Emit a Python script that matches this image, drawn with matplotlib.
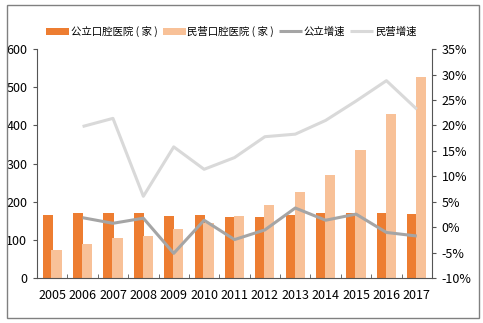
import matplotlib
matplotlib.use("Agg")
import matplotlib.pyplot as plt
from matplotlib.patches import Rectangle
import numpy as np

plt.rcParams['font.family'] = ['Liberation Sans Narrow', 'Noto Sans CJK SC', 'DejaVu Sans']

# 数据
years = ['2005', '2006', '2007', '2008', '2009', '2010', '2011',
         '2012', '2013', '2014', '2015', '2016', '2017']
public_cnt = [165, 170, 170, 172, 163, 165, 161, 161, 167, 170, 172, 170, 168]
private_cnt = [74, 89, 106, 111, 130, 144, 162, 191, 225, 270, 335, 430, 527]
public_growth = [None, 1.9, 0.8, 1.8, -5.1, 1.4, -2.4, -0.5, 3.8, 1.4, 2.6, -1.0, -1.7]
private_growth = [None, 19.8, 21.4, 6.1, 15.8, 11.4, 13.7, 17.8, 18.3, 21.0, 24.8, 28.8, 23.2]

c_pub = '#ED7D31'
c_pri = '#F8C198'
c_pub_l = '#A5A5A5'
c_pri_l = '#D9D9D9'

fig = plt.figure(figsize=(4.83, 3.23), dpi=100)
ax = fig.add_axes([0.0766, 0.1384, 0.8178, 0.7096])
ax2 = ax.twinx()

x = np.arange(len(years))
w = 0.34
b1 = ax.bar(x - 0.145, public_cnt, w, color=c_pub, zorder=2, label='公立口腔医院 ( 家 )')
b2 = ax.bar(x + 0.145, private_cnt, w, color=c_pri, zorder=2, label='民营口腔医院 ( 家 )')

pg = np.array([np.nan if v is None else v for v in public_growth])
rg = np.array([np.nan if v is None else v for v in private_growth])
l1, = ax2.plot(x, pg, color=c_pub_l, lw=2.2, label='公立增速', solid_capstyle='butt')
l2, = ax2.plot(x, rg, color=c_pri_l, lw=2.2, label='民营增速', solid_capstyle='butt')

ax.set_xlim(-0.5, len(years) - 0.5)
ax.set_ylim(0, 600)
ax.set_yticks(range(0, 601, 100))
ax2.set_ylim(-10, 35)
ax2.set_yticks(range(-10, 36, 5))
ax2.set_yticklabels([f'{v}%' for v in range(-10, 36, 5)])

ax.set_xticks(x)
ax.set_xticklabels(years)
ax.set_xticks(np.arange(-0.5, len(years), 1), minor=True)
ax.tick_params(axis='x', which='major', length=0, labelsize=9, pad=8)
ax.tick_params(axis='x', which='minor', direction='in', length=3, color='#555555')
ax.tick_params(axis='y', length=3, color='#555555', labelsize=9, pad=4)
ax2.tick_params(axis='y', length=3, color='#555555', labelsize=9, pad=4)

for a in (ax, ax2):
    a.spines['top'].set_visible(False)
    for s in ('left', 'right', 'bottom'):
        a.spines[s].set_color('#555555')
        a.spines[s].set_linewidth(0.8)
ax.spines['right'].set_visible(False)
ax2.spines['left'].set_visible(False)
ax2.spines['bottom'].set_visible(False)

fig.legend(handles=[b1, b2, l1, l2], loc='center', bbox_to_anchor=(0.479, 0.902),
           ncol=4, frameon=False, fontsize=7.5, handlelength=2.2,
           handletextpad=0.15, columnspacing=0.5, handleheight=0.7)

fig.patches.append(Rectangle((0.0145, 0.0155), 0.977, 0.969, transform=fig.transFigure,
                             fill=False, edgecolor='#808080', lw=1))

fig.savefig('out.png', dpi=100)
